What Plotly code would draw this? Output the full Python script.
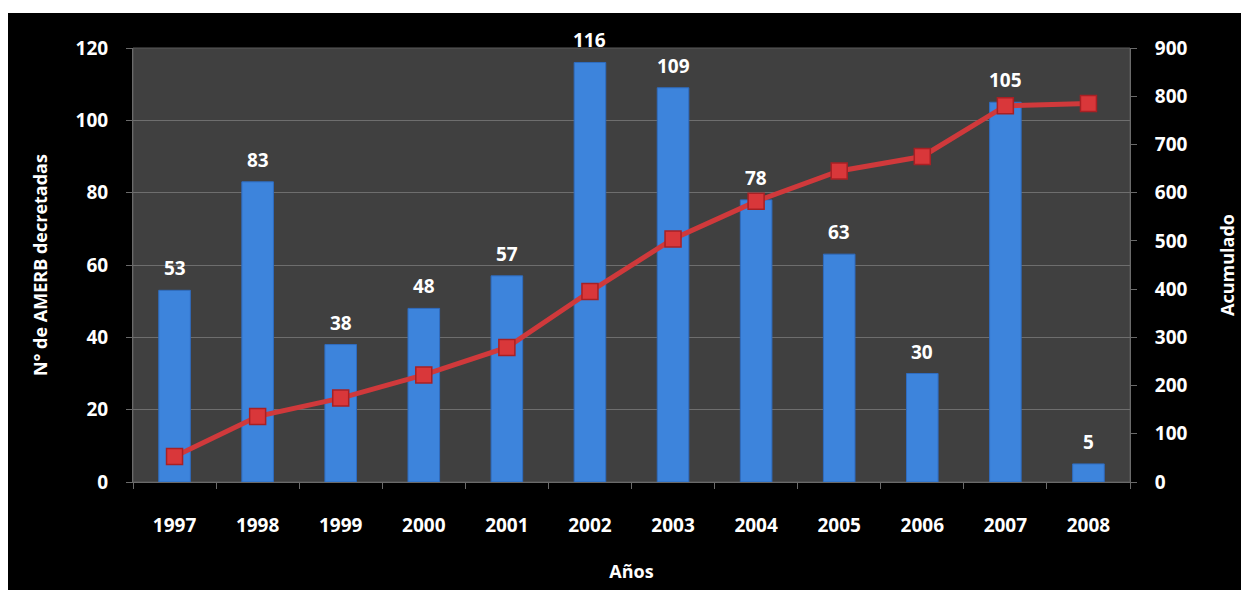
import plotly.graph_objects as go

years = ["1997", "1998", "1999", "2000", "2001", "2002",
         "2003", "2004", "2005", "2006", "2007", "2008"]
decretadas = [53, 83, 38, 48, 57, 116, 109, 78, 63, 30, 105, 5]
acumulado = [53, 136, 174, 222, 279, 395, 504, 582, 645, 675, 780, 785]

FONT = "Open Sans"
W, H = 1241, 590
L, R, T, B = 133, 111, 48, 108
pw, ph = W - L - R, H - T - B

fig = go.Figure()

fig.add_trace(go.Bar(
    x=years, y=decretadas, width=0.38,
    marker=dict(color="#3d84dc", line=dict(color="#2f6cc0", width=1)),
    cliponaxis=False, name="Decretadas",
))

fig.add_trace(go.Scatter(
    x=years, y=acumulado, yaxis="y2", mode="lines+markers",
    line=dict(color="#d0393b", width=5),
    marker=dict(symbol="square", size=16, color="#d9373a",
                line=dict(color="#a82024", width=1.5)),
    name="Acumulado",
))

# value labels above each bar
for i, v in enumerate(decretadas):
    fig.add_annotation(x=i, y=v, xref="x", yref="y", text=f"<b>{v}</b>",
                       showarrow=False, yshift=22,
                       font=dict(family=FONT, size=19, color="white"))

# black frame behind the chart, then the grey plotting area
fig.add_shape(type="rect", xref="paper", yref="paper", layer="below",
              x0=(8 - L) / pw, x1=(W - L) / pw,
              y0=-(B) / ph, y1=1 + (T - 13) / ph,
              fillcolor="black", line=dict(width=0))
fig.add_shape(type="rect", xref="paper", yref="paper", layer="below",
              x0=0, x1=1, y0=0, y1=1,
              fillcolor="#404040", line=dict(color="#5a5a5a", width=1))

tickfont = dict(family=FONT, size=19, color="white")
titlefont = dict(family=FONT, size=18, color="white")

fig.update_layout(
    width=W, height=H,
    margin=dict(l=L, r=R, t=T, b=B, autoexpand=False),
    paper_bgcolor="white", plot_bgcolor="rgba(0,0,0,0)",
    showlegend=False,
    font=dict(family=FONT, color="white"),
    xaxis=dict(
        type="category", automargin=False,
        title=dict(text="<b>Años</b>", font=titlefont, standoff=28),
        tickfont=tickfont, tickprefix="<b>", ticksuffix="</b>",
        ticklabelstandoff=26,
        showgrid=False, showline=True, linecolor="#6a6a6a",
        ticks="outside", tickcolor="#6a6a6a", ticklen=6,
        tickson="boundaries", range=[-0.5, 11.5],
    ),
    yaxis=dict(
        automargin=False,
        title=dict(text="<b>N° de AMERB decretadas</b>", font=titlefont, standoff=23),
        range=[0, 120], dtick=20, tickfont=tickfont,
        tickprefix="<b>", ticksuffix="</b>", ticklabelstandoff=14,
        showgrid=True, gridcolor="#6e6e6e", gridwidth=1,
        showline=True, linecolor="#6a6a6a",
        ticks="outside", tickcolor="#6a6a6a", ticklen=6,
        zeroline=False,
    ),
    yaxis2=dict(
        automargin=False,
        title=dict(text="<b>Acumulado</b>", font=titlefont, standoff=34),
        overlaying="y", side="right",
        range=[0, 900], dtick=100, tickfont=tickfont,
        tickprefix="<b>", ticksuffix="</b>", ticklabelstandoff=14,
        showgrid=False, showline=True, linecolor="#6a6a6a",
        ticks="outside", tickcolor="#6a6a6a", ticklen=6,
        zeroline=False,
    ),
)

fig.write_html("out.html")
